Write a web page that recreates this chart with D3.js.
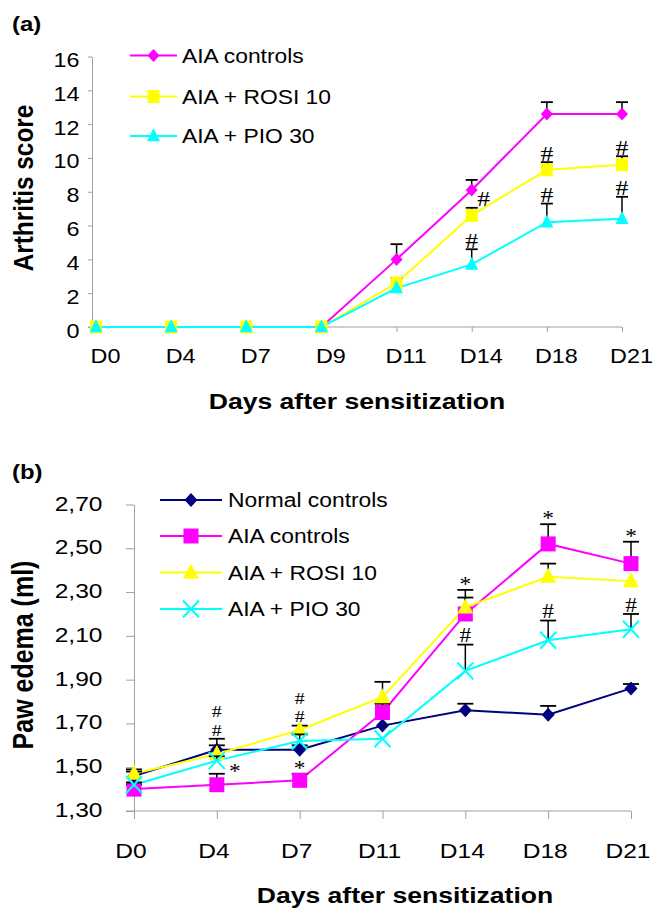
<!DOCTYPE html>
<html>
<head>
<meta charset="utf-8">
<script src="https://cdn.jsdelivr.net/npm/d3@7"></script>
<style>
  body { margin: 0; background: #fff; }
  svg { display: block; }
</style>
</head>
<body>
<svg id="chart" width="669" height="919"></svg>
<script>
// ---- panel (a): arthritis score ----
const daysA = ['D0', 'D4', 'D7', 'D9', 'D11', 'D14', 'D18', 'D21'];
const scoreTicks = [0, 2, 4, 6, 8, 10, 12, 14, 16];
const aiaScore = [0, 0, 0, 0, 4.0, 8.1, 12.6, 12.6];
const aiaScoreErr = [0, 0, 0, 0, 0.9, 0.6, 0.7, 0.7];
const aiaScoreSig = ['', '', '', '', '', '', '', ''];
const rosiScore = [0, 0, 0, 0, 2.6, 6.6, 9.3, 9.6];
const rosiScoreErr = [0, 0, 0, 0, 0.3, 0.45, 0.45, 0.5];
const rosiScoreSig = ['', '', '', '', '', '#', '#', '#'];
const pioScore = [0, 0, 0, 0, 2.3, 3.7, 6.2, 6.4];
const pioScoreErr = [0, 0, 0, 0, 0, 0.9, 1.1, 1.3];
const pioScoreSig = ['', '', '', '', '', '#', '#', '#'];

// ---- panel (b): paw edema ----
const daysB = ['D0', 'D4', 'D7', 'D11', 'D14', 'D18', 'D21'];
const edemaTicks = [1.3, 1.5, 1.7, 1.9, 2.1, 2.3, 2.5, 2.7];
const normalEdema = [1.46, 1.58, 1.58, 1.69, 1.76, 1.74, 1.86];
const normalEdemaErr = [0.02, 0.02, 0.02, 0, 0.03, 0.04, 0.02];
const normalEdemaSig = ['', '', '', '', '', '', ''];
const aiaEdema = [1.40, 1.42, 1.44, 1.75, 2.20, 2.52, 2.43];
const aiaEdemaErr = [0.02, 0.05, 0.03, 0.04, 0.11, 0.09, 0.10];
const aiaEdemaSig = ['', '*', '*', '', '*', '*', '*'];
const rosiEdema = [1.47, 1.56, 1.67, 1.82, 2.23, 2.37, 2.35];
const rosiEdemaErr = [0.02, 0.07, 0.02, 0.07, 0.045, 0.06, 0];
const rosiEdemaSig = ['', '##', '##', '', '', '', ''];
const pioEdema = [1.42, 1.53, 1.62, 1.63, 1.94, 2.08, 2.13];
const pioEdemaErr = [0.01, 0.02, 0.03, 0, 0.12, 0.09, 0.07];
const pioEdemaSig = ['', '', '', '', '#', '#', '#'];

const SX = 1.17; // the scan is a bit wider than tall
const AXIS = '#a0a0a0';
const sans = '"Liberation Sans", Arial, Helvetica, sans-serif';
const serif = '"Liberation Serif", "Times New Roman", serif';
const commaFmt = d3.formatLocale({ decimal: ',', thousands: '.', grouping: [3], currency: ['', ''] }).format('.2f');

const svg = d3.select('#chart');

function txt(g, s, x, y, o = {}) {
    return g.append('text')
        .attr('transform', `translate(${x},${y}) scale(${SX},1)` + (o.rotate ? ' rotate(-90)' : ''))
        .attr('text-anchor', o.anchor || 'start')
        .style('font-family', o.family || sans)
        .style('font-size', (o.size || 20) + 'px')
        .style('font-weight', o.bold ? 'bold' : 'normal')
        .attr('fill', '#000')
        .text(s);
}

const shapes = {
    diamond: (w, h) => `M0,${-h / 2}L${w / 2},0L0,${h / 2}L${-w / 2},0Z`,
    square: (w, h) => `M${-w / 2},${-h / 2}H${w / 2}V${h / 2}H${-w / 2}Z`,
    triangle: (w, h) => `M0,${-h * 0.6}L${w / 2},${h * 0.4}L${-w / 2},${h * 0.4}Z`,
    cross: (w, h) => `M${-w / 2},${-h / 2}L${w / 2},${h / 2}M${w / 2},${-h / 2}L${-w / 2},${h / 2}`
};

function marker(g, s, x, y) {
    const p = g.append('path')
        .attr('d', shapes[s.shape](s.mw, s.mh))
        .attr('transform', `translate(${x},${y})`);
    if (s.shape === 'cross') {
        p.attr('fill', 'none').attr('stroke', s.color).attr('stroke-width', 2);
    } else {
        p.attr('fill', s.color);
    }
}

function panel(cfg) {
    const g = svg.append('g');
    const x = d3.scalePoint().domain(cfg.days).range(cfg.xRange);
    const y = d3.scaleLinear().domain(cfg.yDomain).range(cfg.yRange);
    const baseY = y(cfg.yDomain[0]);

    // y axis
    const yAxis = g.append('g')
        .attr('transform', `translate(${cfg.axisX},0)`)
        .call(d3.axisLeft(y).tickValues(cfg.yTicks).tickSize(cfg.yTick).tickSizeOuter(0).tickFormat(cfg.fmt));
    yAxis.attr('font-size', null).attr('font-family', null);
    yAxis.selectAll('path, line').attr('stroke', AXIS);
    yAxis.selectAll('text')
        .attr('x', null).attr('dy', null)
        .attr('transform', `translate(${cfg.yLabelDx},${cfg.yLabelDy}) scale(${SX},1)`)
        .style('font-family', sans).style('font-size', cfg.tickFont + 'px').attr('fill', '#000');

    // x axis
    const xAxis = g.append('g')
        .attr('transform', `translate(0,${baseY})`)
        .call(d3.axisBottom(x).tickSize(cfg.xTick).tickSizeOuter(0));
    xAxis.select('.domain').remove();
    xAxis.attr('font-size', null).attr('font-family', null);
    xAxis.selectAll('line').attr('stroke', AXIS);
    xAxis.selectAll('text')
        .attr('y', null).attr('dy', null)
        .attr('transform', `translate(${cfg.xLabelDx},${cfg.xLabelDy}) scale(${SX},1)`)
        .style('font-family', sans).style('font-size', cfg.tickFont + 'px').attr('fill', '#000');
    g.append('line')
        .attr('x1', cfg.axisX - cfg.yTick).attr('x2', cfg.xRange[1])
        .attr('y1', baseY).attr('y2', baseY)
        .attr('stroke', AXIS);

    // lines
    const line = d3.line().x((d, i) => x(cfg.days[i])).y(d => y(d));
    cfg.series.forEach(s => {
        g.append('path').datum(s.values)
            .attr('d', line)
            .attr('fill', 'none')
            .attr('stroke', s.color)
            .attr('stroke-width', 2);
    });

    // error bars + markers
    cfg.series.forEach(s => {
        s.values.forEach((v, i) => {
            const cx = x(cfg.days[i]);
            const e = s.errs[i];
            if (e > 0) {
                const top = y(v + e);
                g.append('line').attr('x1', cx).attr('x2', cx).attr('y1', y(v)).attr('y2', top)
                    .attr('stroke', '#000').attr('stroke-width', 1.5);
                g.append('line').attr('x1', cx - cfg.capW / 2).attr('x2', cx + cfg.capW / 2)
                    .attr('y1', top).attr('y2', top)
                    .attr('stroke', '#000').attr('stroke-width', 1.8);
            }
        });
        s.values.forEach((v, i) => marker(g, s, x(cfg.days[i]), y(v)));
    });

    // significance marks above the error bar; stacked marks get a smaller font so they don't collide
    cfg.series.forEach(s => {
        s.sig.forEach((str, i) => {
            if (!str) return;
            const shift = (cfg.sigShift[s.key + cfg.days[i]] || [0, 0]);
            const top = y(s.values[i] + s.errs[i]);
            const chars = str.split('');
            const size = chars.length > 1 ? 17 : cfg.sigFont;
            const step = 18.5;
            const off = chars[0] === '#' ? 0.34 : 0.5;
            chars.forEach((ch, k) => {
                const base = top - cfg.sigGap + shift[1] + off * size - k * step;
                txt(g, ch, x(cfg.days[i]) + shift[0], base,
                    { anchor: 'middle', family: serif, size: size });
            });
        });
    });

    // legend
    cfg.series.forEach((s, i) => {
        const ly = cfg.legend.rows[i];
        g.append('line')
            .attr('x1', cfg.legend.x1).attr('x2', cfg.legend.x2)
            .attr('y1', ly).attr('y2', ly)
            .attr('stroke', s.color).attr('stroke-width', 2);
        marker(g, s, (cfg.legend.x1 + cfg.legend.x2) / 2, ly);
        txt(g, s.name, cfg.legend.tx, ly + 7, { size: 19.5 });
    });

    // titles
    txt(g, cfg.tag, 12, cfg.tagY, { bold: true, size: 20.5 });
    txt(g, 'Days after sensitization', cfg.xTitle[0], cfg.xTitle[1], { anchor: 'middle', bold: true, size: 22.7 });
    txt(g, cfg.yTitle, 33, cfg.yTitleY, { anchor: 'middle', bold: true, size: cfg.yTitleSize, rotate: true });
}

panel({
    tag: '(a)', tagY: 31,
    days: daysA, xRange: [96, 622], axisX: 92,
    yDomain: [0, 16], yRange: [327, 56.5], yTicks: scoreTicks, fmt: d3.format('d'),
    yTick: 4, xTick: 5, tickFont: 20,
    yLabelDx: -12.5, yLabelDy: 10, xLabelDx: 9, xLabelDy: 36,
    capW: 12, sigFont: 22, sigGap: 9,
    sigShift: { rosiD14: [12, 0] },
    xTitle: [357, 408.5], yTitle: 'Arthritis score', yTitleY: 188, yTitleSize: 24.4,
    legend: { x1: 130, x2: 177, tx: 182, rows: [55.5, 96.5, 136] },
    series: [
        { key: 'aia', name: 'AIA controls', values: aiaScore, errs: aiaScoreErr, sig: aiaScoreSig, color: '#ff00ff', shape: 'diamond', mw: 12, mh: 13 },
        { key: 'rosi', name: 'AIA + ROSI 10', values: rosiScore, errs: rosiScoreErr, sig: rosiScoreSig, color: '#ffff00', shape: 'square', mw: 12, mh: 13 },
        { key: 'pio', name: 'AIA + PIO 30', values: pioScore, errs: pioScoreErr, sig: pioScoreSig, color: '#00ffff', shape: 'triangle', mw: 13, mh: 13 }
    ]
});

panel({
    tag: '(b)', tagY: 479,
    days: daysB, xRange: [134, 631], axisX: 134,
    yDomain: [1.3, 2.7], yRange: [811, 504.5], yTicks: edemaTicks, fmt: commaFmt,
    yTick: 8, xTick: 8, tickFont: 21,
    yLabelDx: -31.5, yLabelDy: 5.5, xLabelDx: -3.5, xLabelDy: 47,
    capW: 16, sigFont: 20, sigGap: 9,
    sigShift: { aiaD4: [18, 3] },
    xTitle: [405, 903], yTitle: 'Paw edema (ml)', yTitleY: 655, yTitleSize: 25,
    legend: { x1: 160, x2: 222, tx: 228, rows: [500, 536, 572.5, 609] },
    series: [
        { key: 'normal', name: 'Normal controls', values: normalEdema, errs: normalEdemaErr, sig: normalEdemaSig, color: '#000080', shape: 'diamond', mw: 13, mh: 14 },
        { key: 'aia', name: 'AIA controls', values: aiaEdema, errs: aiaEdemaErr, sig: aiaEdemaSig, color: '#ff00ff', shape: 'square', mw: 15, mh: 15 },
        { key: 'rosi', name: 'AIA + ROSI 10', values: rosiEdema, errs: rosiEdemaErr, sig: rosiEdemaSig, color: '#ffff00', shape: 'triangle', mw: 16, mh: 15 },
        { key: 'pio', name: 'AIA + PIO 30', values: pioEdema, errs: pioEdemaErr, sig: pioEdemaSig, color: '#00ffff', shape: 'cross', mw: 16, mh: 17 }
    ]
});
</script>
</body>
</html>
